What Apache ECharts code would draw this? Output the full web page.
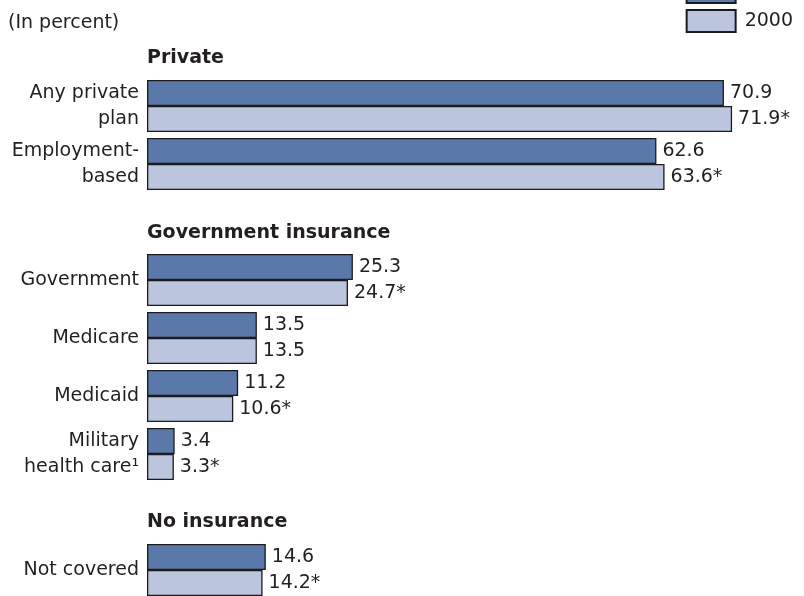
<!DOCTYPE html>
<html>
<head>
<meta charset="utf-8">
<script src="https://cdn.jsdelivr.net/npm/echarts@6/dist/echarts.min.js"></script>
<style>
  html, body { margin: 0; padding: 0; background: #fff; }
  #chart { width: 804px; height: 596px; }
</style>
</head>
<body>
<div id="chart"></div>
<script>
// categories (empty slots leave room for the group headers)
const categories = ['Any private\nplan', 'Employment-\nbased', ' ', 'Government', 'Medicare', 'Medicaid', 'Military\nhealth care¹', '  ', 'Not covered']
const values2001 = [70.9, 62.6, null, 25.3, 13.5, 11.2, 3.4, null, 14.6]
const values2000 = [71.9, 63.6, null, 24.7, 13.5, 10.6, 3.3, null, 14.2]
// asterisk = statistically significant change
const star2000 = [true, true, false, true, false, true, true, false, true]
const seriesNames = ['2001', '2000']
const groupHeaders = ['Private', 'Government insurance', 'No insurance']

const FONT = 'DejaVu Sans'
const TEXT = '#231f20'

const chart = echarts.init(document.getElementById('chart'))

const header = (text, top) => ({
    text: text,
    left: 147,
    top: top,
    padding: 0,
    textStyle: { fontFamily: FONT, fontSize: 19, fontWeight: 'bold', color: TEXT }
})

const valueLabel = stars => ({
    show: true,
    position: 'right',
    distance: 6,
    fontFamily: FONT,
    fontSize: 19,
    color: TEXT,
    formatter: p => p.value + (stars && stars[p.dataIndex] ? '*' : '')
})

const option = {
    animation: false,
    title: [
        {
            text: '(In percent)',
            left: 8,
            top: 14,
            padding: 0,
            textStyle: { fontFamily: FONT, fontSize: 19, fontWeight: 'normal', color: TEXT }
        },
        header(groupHeaders[0], 49),
        header(groupHeaders[1], 224),
        header(groupHeaders[2], 513)
    ],
    legend: {
        data: seriesNames,
        orient: 'vertical',
        right: 11,
        top: -20,
        padding: 0,
        itemWidth: 49,
        itemHeight: 22,
        itemGap: 5,
        icon: 'rect',
        textStyle: { fontFamily: FONT, fontSize: 19, color: TEXT, padding: [0, 0, 0, 4] }
    },
    grid: {
        left: 147,
        top: 77,
        height: 522,
        width: 651,
        outerBoundsMode: 'none',
        containLabel: false
    },
    xAxis: {
        type: 'value',
        min: 0,
        max: 80,
        show: false,
        splitLine: { show: false }
    },
    yAxis: {
        type: 'category',
        inverse: true,
        data: categories,
        axisLine: { show: false },
        axisTick: { show: false },
        axisLabel: {
            margin: 8,
            fontFamily: FONT,
            fontSize: 19,
            lineHeight: 26,
            color: TEXT,
            align: 'right'
        }
    },
    series: [
        {
            name: seriesNames[0],
            type: 'bar',
            data: values2001,
            barWidth: 26,
            barGap: '0%',
            itemStyle: { color: '#5a78a9', borderColor: '#1b1b1b', borderWidth: 1.3 },
            label: valueLabel(null)
        },
        {
            name: seriesNames[1],
            type: 'bar',
            data: values2000,
            barWidth: 26,
            barGap: '0%',
            itemStyle: { color: '#bbc5de', borderColor: '#1b1b1b', borderWidth: 1.3 },
            label: valueLabel(star2000)
        }
    ]
}

chart.setOption(option)
</script>
</body>
</html>
